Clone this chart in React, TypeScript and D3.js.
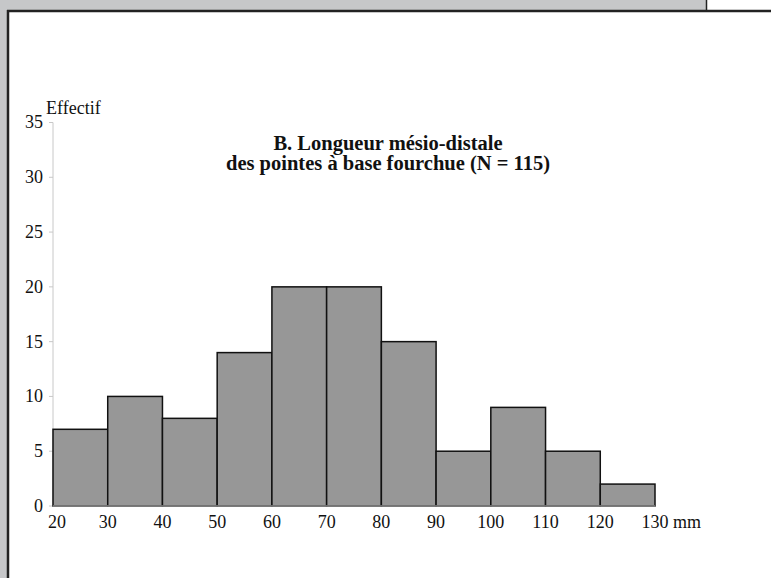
import React from "react";
import * as d3 from "d3";

const binStarts = [20, 30, 40, 50, 60, 70, 80, 90, 100, 110, 120];
const binWidth = 10;
const counts = [7, 10, 8, 14, 20, 20, 15, 5, 9, 5, 2];
const xTicks = [20, 30, 40, 50, 60, 70, 80, 90, 100, 110, 120, 130];
const yTicks = [0, 5, 10, 15, 20, 25, 30, 35];
const titleLines = ["B. Longueur mésio-distale", "des pointes à base fourchue (N = 115)"];
const yLabel = "Effectif";
const xUnit = "mm";

const W = 771;
const H = 578;
const font = "'Liberation Serif', 'Times New Roman', serif";

export default function App() {
  const x = d3.scaleLinear().domain([20, 130]).range([53, 655]);
  const y = d3.scaleLinear().domain([0, 35]).range([506, 122.5]);
  return (
    <div style={{ position: "absolute", left: 0, top: 0 }}>
      <svg width={W} height={H} style={{ display: "block" }}>
        <rect x={0} y={0} width={W} height={H} fill="#fff" />
        <rect x={0} y={0} width={706} height={11} fill="#c6c7c9" />
        <rect x={0} y={0} width={8} height={H} fill="#c6c7c9" />
        <line x1={706.5} y1={0} x2={706.5} y2={11} stroke="#222" strokeWidth={1.5} />
        <line x1={7} y1={11} x2={W} y2={11} stroke="#222" strokeWidth={2.5} />
        <line x1={8} y1={10} x2={8} y2={H} stroke="#222" strokeWidth={2.5} />

        {/* y axis */}
        <line x1={x(20)} y1={y(35)} x2={x(20)} y2={y(0)} stroke="#c8c8c8" strokeWidth={1} />
        {yTicks.map((t) => (
          <g key={t}>
            <line x1={x(20) - 4} x2={x(20)} y1={y(t)} y2={y(t)} stroke="#c8c8c8" strokeWidth={1} />
            <text x={43} y={y(t)} dy="0.33em" textAnchor="end" fontFamily={font} fontSize={18} fill="#111">
              {t}
            </text>
          </g>
        ))}
        <text x={46} y={114} fontFamily={font} fontSize={18} fill="#111">{yLabel}</text>

        {/* bars */}
        {binStarts.map((b, i) => (
          <rect
            key={b}
            x={x(b)}
            y={y(counts[i])}
            width={x(b + binWidth) - x(b)}
            height={y(0) - y(counts[i])}
            fill="#979797"
            stroke="#111"
            strokeWidth={1.5}
          />
        ))}
        <line x1={x(20)} x2={x(130)} y1={y(0)} y2={y(0)} stroke="#8a8a8a" strokeWidth={1.5} />

        {/* x labels */}
        {xTicks.map((t, i) => (
          <text
            key={t}
            x={x(t) + (i === 0 ? 4 : 0)}
            y={528}
            textAnchor="middle"
            fontFamily={font}
            fontSize={18}
            fill="#111"
          >
            {t}
          </text>
        ))}
        <text x={x(130) + 18} y={528} fontFamily={font} fontSize={18} fill="#111">{xUnit}</text>

        {/* title */}
        {titleLines.map((l, i) => (
          <text
            key={i}
            x={388}
            y={150 + i * 20}
            textAnchor="middle"
            fontFamily={font}
            fontWeight="bold"
            fontSize={20.5}
            fill="#111"
          >
            {l}
          </text>
        ))}
      </svg>
    </div>
  );
}
